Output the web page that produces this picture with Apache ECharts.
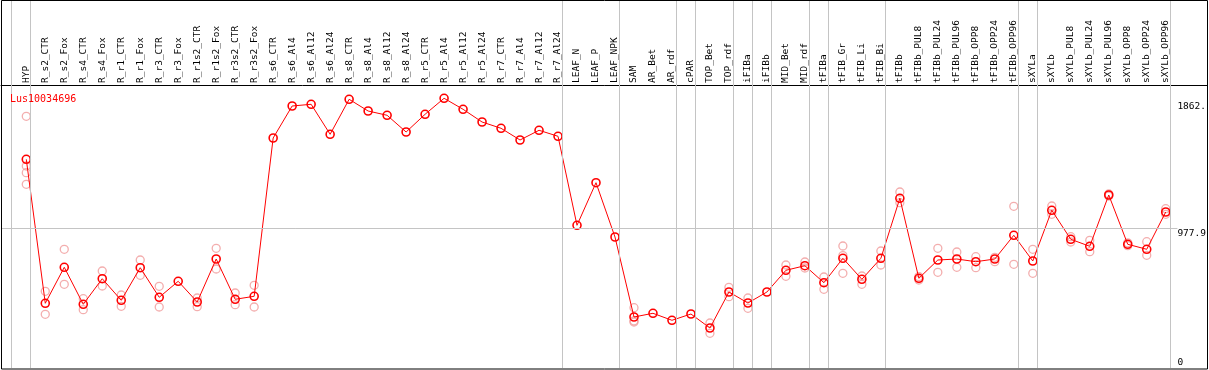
<!DOCTYPE html>
<html lang="en" style="height: 100%">
<head>
<meta charset="utf-8">
<title>Lus10034696</title>
</head>
<body style="height: 100%; margin: 0">
<div id="container" style="width: 1209px; height: 370px"></div>

<script type="text/javascript" src="https://cdn.jsdelivr.net/npm/echarts/dist/echarts.min.js"></script>

<script type="text/javascript">
var categories = ['HYP', 'R_s2_CTR', 'R_s2_Fox', 'R_s4_CTR', 'R_s4_Fox', 'R_r1_CTR', 'R_r1_Fox',
  'R_r3_CTR', 'R_r3_Fox', 'R_r1s2_CTR', 'R_r1s2_Fox', 'R_r3s2_CTR', 'R_r3s2_Fox', 'R_s6_CTR',
  'R_s6_Al4', 'R_s6_Al12', 'R_s6_Al24', 'R_s8_CTR', 'R_s8_Al4', 'R_s8_Al12', 'R_s8_Al24',
  'R_r5_CTR', 'R_r5_Al4', 'R_r5_Al12', 'R_r5_Al24', 'R_r7_CTR', 'R_r7_Al4', 'R_r7_Al12',
  'R_r7_Al24', 'LEAF_N', 'LEAF_P', 'LEAF_NPK', 'SAM', 'AR_Bet', 'AR_rdf', 'cPAR', 'TOP_Bet',
  'TOP_rdf', 'iFIBa', 'iFIBb', 'MID_Bet', 'MID_rdf', 'tFIBa', 'tFIB_Gr', 'tFIB_Li', 'tFIB_Bi',
  'tFIBb', 'tFIBb_PUL8', 'tFIBb_PUL24', 'tFIBb_PUL96', 'tFIBb_OPP8', 'tFIBb_OPP24', 'tFIBb_OPP96',
  'sXYLa', 'sXYLb', 'sXYLb_PUL8', 'sXYLb_PUL24', 'sXYLb_PUL96', 'sXYLb_OPP8', 'sXYLb_OPP24',
  'sXYLb_OPP96'];

// mean expression per sample
var means = [1461, 453, 705, 446, 625, 474, 702, 495, 607, 462, 763, 481, 502,
  1610, 1834, 1846, 1636, 1881, 1799, 1769, 1652, 1776, 1888, 1811, 1722, 1678, 1596, 1664, 1622,
  999, 1297, 917, 357, 383, 334, 378, 280, 532, 455, 532, 684, 716, 597, 768, 621, 768,
  1188, 628, 756, 763, 744, 763, 929, 749, 1104, 901, 852, 1211, 866, 831, 1092];

// individual replicates per sample
var replicates = [
  [1762, 1414, 1367, 1286], [537, 376], [831, 586], [485, 408], [679, 574], [511, 432],
  [756, 649], [572, 427], [], [490, 429], [838, 693], [525, 443], [579, 427],
  [], [], [], [], [], [], [], [], [], [], [], [], [], [], [], [],
  [], [], [], [422, 330, 322], [], [], [], [315, 243], [565, 499], [490, 418], [],
  [721, 642], [742, 700], [637, 551], [854, 787, 663], [644, 586], [819, 721],
  [1232, 1157], [640, 616], [838, 670], [812, 705], [779, 702], [775, 744], [1132, 726],
  [831, 663], [1134, 1076], [919, 882], [894, 814], [1218, 1204], [876, 856], [884, 789],
  [1115, 1076]];

// sample groups end after these indices
var groupEnds = [-1, 0, 28, 31, 34, 35, 37, 38, 39, 41, 42, 45, 52, 53, 60];

var yLabels = [1862, 977.9];
var geneName = 'Lus10034696';

var dom = document.getElementById('container');
var myChart = echarts.init(dom);

var mono = 'DejaVu Sans Mono';
var xMin = (1 - 26.3) / 19;
var xMax = (1208 - 26.3) / 19;
var xLabelEdge = (1178 - 26.3) / 19;

var meanData = means.map(function (v, i) { return [i, v]; });
var repData = [];
replicates.forEach(function (reps, i) {
  reps.forEach(function (v) { repData.push([i, v]); });
});

var yBase = {
  type: 'value',
  position: 'right',
  offset: -32,
  min: 0,
  max: 2576,
  axisLine: {show: false},
  axisTick: {show: false},
  splitLine: {show: false}
};

var option = {
  animation: false,
  title: {
    text: geneName,
    left: 5,
    top: 89,
    textStyle: {color: '#ff0000', fontSize: 10, fontWeight: 'normal', fontFamily: mono}
  },
  grid: {left: 1, right: 1, top: 0, bottom: 2, containLabel: false},
  xAxis: {
    type: 'value',
    position: 'top',
    offset: -85,
    min: xMin,
    max: xMax,
    axisLine: {show: true, onZero: false, lineStyle: {color: '#000', width: 1}},
    axisTick: {show: false},
    splitLine: {show: false},
    axisLabel: {
      customValues: categories.map(function (c, i) { return i; }),
      formatter: function (v) { return categories[Math.round(v)]; },
      rotate: -90,
      margin: 2,
      color: '#000',
      fontSize: 9.5,
      fontFamily: mono
    }
  },
  yAxis: [
    Object.assign({}, yBase, {
      axisLabel: {
        customValues: yLabels,
        formatter: function (v) { return v === 1862 ? '1862.' : String(v); },
        verticalAlign: 'top',
        margin: 2,
        color: '#000',
        fontSize: 9.5,
        fontFamily: mono
      }
    }),
    Object.assign({}, yBase, {
      axisLabel: {
        customValues: [0],
        verticalAlign: 'bottom',
        margin: 2,
        color: '#000',
        fontSize: 9.5,
        fontFamily: mono
      }
    })
  ],
  series: [
    {
      name: 'replicates',
      type: 'scatter',
      data: repData,
      symbol: 'circle',
      symbolSize: 8,
      silent: true,
      itemStyle: {color: 'rgba(0,0,0,0)', borderColor: '#f09a9a', borderWidth: 1.3},
      markLine: {
        silent: true,
        symbol: 'none',
        label: {show: false},
        lineStyle: {color: '#c4c4c4', width: 1, type: 'solid'},
        data: groupEnds.map(function (g) { return {xAxis: g + 0.23}; })
          .concat([[{coord: [xMin, 977.9]}, {coord: [xLabelEdge, 977.9]}]])
      }
    },
    {
      name: geneName,
      type: 'line',
      data: meanData,
      symbol: 'circle',
      symbolSize: 8,
      silent: true,
      lineStyle: {color: '#ff0000', width: 1},
      itemStyle: {color: 'rgba(0,0,0,0)', borderColor: '#ff0000', borderWidth: 1.6}
    }
  ],
  graphic: [
    {
      type: 'rect',
      z: 100,
      shape: {x: 1.5, y: 0.5, width: 1206, height: 368.5},
      style: {fill: 'none', stroke: '#000', lineWidth: 1}
    }
  ]
};

myChart.setOption(option);
window.addEventListener('resize', myChart.resize);
</script>
</body>
</html>
